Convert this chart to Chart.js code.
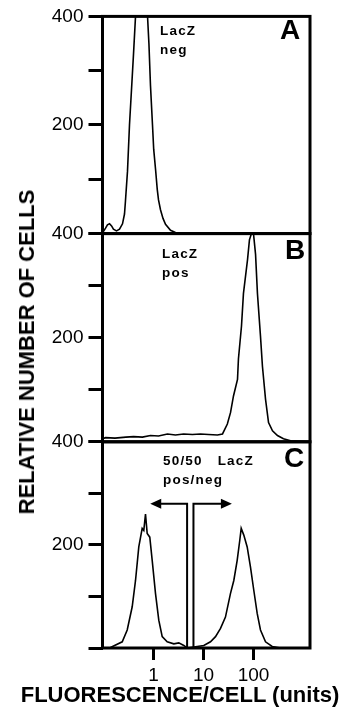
<!DOCTYPE html>
<html>
<head>
<meta charset="utf-8">
<script src="https://cdn.jsdelivr.net/npm/chart.js@4.4.1/dist/chart.umd.min.js"></script>
<style>
  body { margin: 0; background: #fff; }
  #wrap { position: relative; width: 345px; height: 713px; font-family: "Liberation Sans", Arial, sans-serif; color: #000; }
  #wrap canvas { position: absolute; left: 0; top: 0; }
  .lbl { position: absolute; white-space: pre; font-weight: bold; }
  .note { font-size: 13.5px; line-height: 19px; letter-spacing: 1.2px; }
  .panel { font-size: 28px; line-height: 1; }
</style>
</head>
<body>
<div id="wrap">
  <canvas id="chart" width="345" height="713"></canvas>
  <div class="lbl note" style="left:160px; top:21px;">LacZ
neg</div>
  <div class="lbl note" style="left:162px; top:244px;">LacZ
pos</div>
  <div class="lbl note" style="left:163px; top:451px;">50/50   LacZ
pos/neg</div>
  <div class="lbl panel" style="left:280px; top:16px;">A</div>
  <div class="lbl panel" style="left:285px; top:236px;">B</div>
  <div class="lbl panel" style="left:284px; top:444px;">C</div>
  <div class="lbl" style="left:27px; top:352px; font-size:22px; line-height:1; transform:translate(-50%,-50%) rotate(-90deg);">RELATIVE NUMBER OF CELLS</div>
  <div class="lbl" style="left:180px; top:684px; font-size:22px; line-height:1; transform:translateX(-50%);">FLUORESCENCE/CELL (units)</div>
</div>
<script>
// log x axis range and labelled ticks
const xMin = 0.0955;
const xMax = 1350;
const xTickValues = [1, 10, 100];
const yTickValues = [0, 100, 200, 300, 400];
const yLabelled = [200, 400];

// panel A: LacZ neg
const fluorA = [0.10, 0.11, 0.12, 0.132, 0.145, 0.158, 0.182, 0.209, 0.24, 0.263, 0.275, 0.302, 0.331, 0.363, 0.398, 0.437, 0.50, 0.575, 0.66, 0.76, 0.81, 0.87, 0.955, 1.01, 1.10, 1.19, 1.26, 1.38, 1.55, 1.74, 2.19, 2.75, 3.47, 1350];
const countA = [4, 10, 16, 18, 14, 8, 5, 8, 18, 36, 60, 115, 200, 265, 330, 400, 480, 520, 500, 400, 350, 273, 200, 155, 118, 81, 62, 44, 28, 17, 6, 2, 0, 0];

// panel B: LacZ pos
const fluorB = [0.0955, 0.11, 0.17, 0.28, 0.40, 0.60, 0.87, 1.26, 1.9, 2.75, 4.0, 6.0, 8.7, 12.6, 19, 24, 30, 34.7, 39.8, 47.9, 50, 57.5, 63, 76, 83, 91, 100, 110, 120, 138, 151, 174, 200, 240, 302, 398, 550, 1350];
const countB = [6, 8, 7, 9, 10, 9, 12, 11, 15, 13, 15, 14, 15, 14, 13, 15, 34, 56, 88, 120, 159, 222, 285, 350, 388, 400, 400, 360, 285, 203, 145, 82, 37, 21, 12, 6, 2, 0];

// panel C: 50/50 mix
const fluorC = [0.0955, 0.138, 0.237, 0.298, 0.375, 0.437, 0.508, 0.594, 0.64, 0.692, 0.748, 0.843, 0.942, 1.096, 1.276, 1.493, 1.879, 2.547, 3.206, 4.036, 4.72, 6.40, 10.14, 13.8, 17.4, 21.9, 27.5, 34.7, 40.4, 47.2, 53.2, 56.8, 64.0, 74.8, 87.1, 101.4, 118.6, 138, 174, 236.6, 347, 1350];
const countC = [0, 1, 12, 35, 80, 131, 196, 232, 228, 260, 222, 215, 170, 106, 54, 22, 12, 8, 10, 5, 0, 2, 5, 12, 22, 38, 60, 106, 131, 170, 209, 232, 219, 196, 157, 112, 67, 35, 12, 3, 0, 0];

// gate markers in panel C
const gateLow = 4.7;
const gateHigh = 6.3;
const gateCount = 280;
const arrowLeftTip = 0.86;
const arrowRightTip = 37;

Chart.defaults.font.family = '"Liberation Sans", Arial, sans-serif';
Chart.defaults.color = '#000';

function toPoints(xs, ys) {
    return xs.map((x, i) => ({x: x, y: ys[i]}));
}

function panelAxis(weight) {
    return {
        type: 'linear',
        position: 'left',
        stack: 'panels',
        stackWeight: weight,
        offset: false,
        min: 0,
        max: 400,
        afterBuildTicks: s => { s.ticks = yTickValues.map(v => ({value: v})); },
        afterFit: s => { s.width = 102.5; },
        ticks: {
            autoSkip: false,
            padding: 5,
            font: {size: 19},
            callback: v => yLabelled.includes(v) ? String(v) : ''
        },
        grid: {drawOnChartArea: false, tickLength: 14, tickWidth: 3, tickColor: '#000'},
        border: {display: false}
    };
}

// panel frames and the gate arrows
const frames = {
    id: 'frames',
    afterDatasetsDraw(chart) {
        const ctx = chart.ctx;
        const ca = chart.chartArea;
        ctx.save();
        ctx.strokeStyle = '#000';
        ctx.lineWidth = 3;
        ['yA', 'yB', 'yC'].forEach(id => {
            const s = chart.scales[id];
            ctx.strokeRect(ca.left, s.top, ca.right - ca.left, s.bottom - s.top);
        });

        const x = chart.scales.x, y = chart.scales.yC;
        const yTop = y.getPixelForValue(gateCount), y0 = y.getPixelForValue(0);
        const xl = x.getPixelForValue(gateLow), xh = x.getPixelForValue(gateHigh);
        const tl = x.getPixelForValue(arrowLeftTip), tr = x.getPixelForValue(arrowRightTip);
        ctx.lineWidth = 2;
        ctx.beginPath();
        ctx.moveTo(xl, y0); ctx.lineTo(xl, yTop); ctx.lineTo(tl + 8, yTop);
        ctx.moveTo(xh, y0); ctx.lineTo(xh, yTop); ctx.lineTo(tr - 8, yTop);
        ctx.stroke();
        ctx.fillStyle = '#000';
        ctx.beginPath();
        ctx.moveTo(tl, yTop); ctx.lineTo(tl + 11, yTop - 5); ctx.lineTo(tl + 11, yTop + 5); ctx.closePath();
        ctx.moveTo(tr, yTop); ctx.lineTo(tr - 11, yTop - 5); ctx.lineTo(tr - 11, yTop + 5); ctx.closePath();
        ctx.fill();
        ctx.restore();
    }
};

new Chart(document.getElementById('chart').getContext('2d'), {
    type: 'line',
    data: {
        datasets: [
            {data: toPoints(fluorA, countA), yAxisID: 'yA'},
            {data: toPoints(fluorB, countB), yAxisID: 'yB'},
            {data: toPoints(fluorC, countC), yAxisID: 'yC'}
        ]
    },
    options: {
        responsive: false,
        animation: false,
        layout: {padding: {top: 14, right: 35, left: 0, bottom: 0}},
        plugins: {legend: {display: false}, tooltip: {enabled: false}},
        elements: {
            point: {radius: 0},
            line: {borderColor: '#000', borderWidth: 1.6, tension: 0}
        },
        scales: {
            x: {
                type: 'logarithmic',
                position: 'bottom',
                min: xMin,
                max: xMax,
                afterBuildTicks: s => { s.ticks = xTickValues.map(v => ({value: v})); },
                afterFit: s => { s.height = 65; },
                ticks: {
                    autoSkip: false,
                    maxRotation: 0,
                    padding: 4,
                    font: {size: 19},
                    callback: v => String(v)
                },
                grid: {drawOnChartArea: false, tickLength: 12, tickWidth: 3, tickColor: '#000'},
                border: {display: false}
            },
            // stacked panels: the last one listed sits on top
            yC: panelAxis(207),
            yB: panelAxis(209),
            yA: panelAxis(218)
        }
    },
    plugins: [frames]
});
</script>
</body>
</html>
